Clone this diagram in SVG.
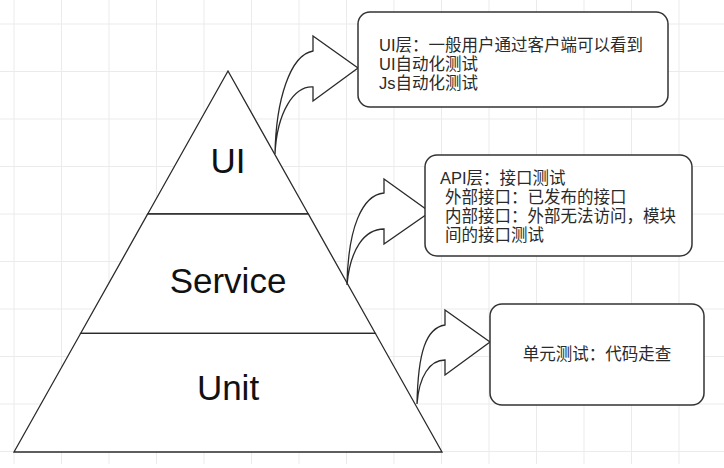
<svg xmlns="http://www.w3.org/2000/svg" width="724" height="468" viewBox="0 0 724 468">
<style>
.grid line{stroke:#ebebeb;stroke-width:1}
.shape{fill:#fff;stroke:#2a2a2a;stroke-width:1.3;stroke-linejoin:miter}
.box{fill:#fff;stroke:#333;stroke-width:1.5}
.big{font-family:"Liberation Sans",Arial,sans-serif;font-size:35px;fill:#111;text-anchor:middle}
.note{font-family:"Liberation Sans","Noto Sans CJK SC",sans-serif;font-size:16.5px;fill:#2a2a2a}
</style>
<rect width="724" height="468" fill="#fff"/>
<g class="grid">
<line x1="14" y1="0" x2="14" y2="464"/><line x1="61.5" y1="0" x2="61.5" y2="464"/><line x1="109" y1="0" x2="109" y2="464"/><line x1="156.5" y1="0" x2="156.5" y2="464"/><line x1="204" y1="0" x2="204" y2="464"/><line x1="251.5" y1="0" x2="251.5" y2="464"/><line x1="299" y1="0" x2="299" y2="464"/><line x1="346.5" y1="0" x2="346.5" y2="464"/><line x1="394" y1="0" x2="394" y2="464"/><line x1="441.5" y1="0" x2="441.5" y2="464"/><line x1="489" y1="0" x2="489" y2="464"/><line x1="536.5" y1="0" x2="536.5" y2="464"/><line x1="584" y1="0" x2="584" y2="464"/><line x1="631.5" y1="0" x2="631.5" y2="464"/><line x1="679" y1="0" x2="679" y2="464"/>
<line x1="0" y1="24" x2="724" y2="24"/><line x1="0" y1="71.5" x2="724" y2="71.5"/><line x1="0" y1="119" x2="724" y2="119"/><line x1="0" y1="166.5" x2="724" y2="166.5"/><line x1="0" y1="214" x2="724" y2="214"/><line x1="0" y1="261.5" x2="724" y2="261.5"/><line x1="0" y1="309" x2="724" y2="309"/><line x1="0" y1="356.5" x2="724" y2="356.5"/><line x1="0" y1="404" x2="724" y2="404"/><line x1="0" y1="451.5" x2="724" y2="451.5"/>
</g>
<g id="layer-ui">
<polygon class="shape" points="228,71 308.3,214 147.7,214"/>
<text class="big" x="228" y="173">UI</text>
</g>
<g id="layer-service">
<polygon class="shape" points="147.7,214 308.3,214 375.3,333.3 80.7,333.3"/>
<text class="big" x="228" y="293">Service</text>
</g>
<g id="layer-unit">
<polygon class="shape" points="80.7,333.3 375.3,333.3 442,452 14,452"/>
<text class="big" x="228" y="400">Unit</text>
</g>
<g id="connectors">
<path class="shape" d="M275,154 C276,100 290,55 313,51 L313,36 L358,68 L313,101 L313,87 C294,86 277,112 275,154 Z"/>
<path class="shape" d="M347,285 C348,228 362,195 384,193 L384,179 L430,212 L384,244 L384,229 C364,229 350,250 347,285 Z"/>
<path class="shape" d="M417,404 C418,352 426,328 445,325 L445,310 L490,342 L445,375 L445,360 C430,360 419,376 417,404 Z"/>
</g>
<g id="note-ui">
<rect class="box" x="358" y="12" width="310" height="95" rx="12"/>
<text class="note" x="379" y="51">UI层：一般用户通过客户端可以看到</text>
<text class="note" x="379" y="70">UI自动化测试</text>
<text class="note" x="379" y="89">Js自动化测试</text>
</g>
<g id="note-api">
<rect class="box" x="425" y="155" width="267" height="101" rx="12"/>
<text class="note" x="440" y="184">API层：接口测试</text>
<text class="note" x="445" y="203">外部接口：已发布的接口</text>
<text class="note" x="445" y="222">内部接口：外部无法访问，模块</text>
<text class="note" x="445" y="241">间的接口测试</text>
</g>
<g id="note-unit">
<rect class="box" x="490" y="304" width="214" height="101" rx="12"/>
<text class="note" x="597" y="360" text-anchor="middle">单元测试：代码走查</text>
</g>
</svg>
